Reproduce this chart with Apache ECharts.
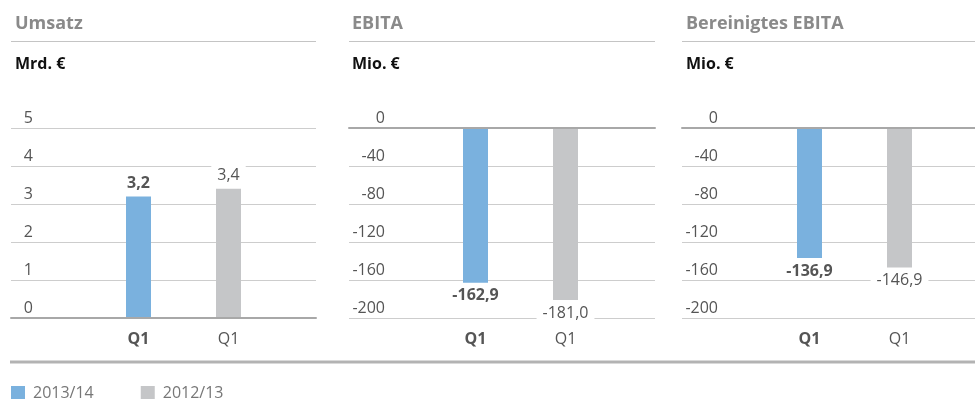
<!DOCTYPE html>
<html>
<head>
<meta charset="utf-8">
<script src="https://cdn.jsdelivr.net/npm/echarts@6/dist/echarts.min.js"></script>
<style>
html, body { margin: 0; padding: 0; background: #fff; }
#chart { width: 975px; height: 399px; }
</style>
</head>
<body>
<div id="chart"></div>
<script>
var years = ['2013/14', '2012/13'];
var categories = ['Q1', 'Q1'];
var titles = ['Umsatz', 'EBITA', 'Bereinigtes EBITA'];
var units = ['Mrd. €', 'Mio. €', 'Mio. €'];
var umsatz = [3.2, 3.4];
var ebita = [-162.9, -181.0];
var adjEbita = [-136.9, -146.9];
var umsatzTicks = [0, 1, 2, 3, 4, 5];
var ebitaTicks = [-200, -160, -120, -80, -40, 0];

var font = 'Open Sans';
var blue = '#7ab1de';
var gray = '#c5c6c8';

// layout of the three panels (pixels)
var panels = [
	{ values: umsatz, ticks: umsatzTicks, left: 11, width: 305, barLeft: 93.5, labelMargin: 22, titleX: 15 },
	{ values: ebita, ticks: ebitaTicks, left: 349, width: 306, barLeft: 430.5, labelMargin: 36, titleX: 352 },
	{ values: adjEbita, ticks: ebitaTicks, left: 682, width: 293, barLeft: 764.5, labelMargin: 36, titleX: 686 }
];

function fmt(p) {
	return p.value.toFixed(1).replace('.', ',');
}

var grid = [], xAxis = [], yAxis = [], series = [], title = [], graphic = [];

panels.forEach(function(p, i) {
	var min = p.ticks[0];
	var max = p.ticks[p.ticks.length - 1];
	var step = p.ticks[1] - p.ticks[0];
	var neg = max <= 0;

	// grid with the horizontal lines
	grid.push({ left: p.left, width: p.width, top: 128, height: 190 });
	// grid with the bars
	grid.push({ left: p.barLeft, width: 180, top: 128, height: 190 });

	xAxis.push({
		gridIndex: 2 * i,
		type: 'category',
		data: [''],
		axisTick: { show: false },
		axisLabel: { show: false },
		axisLine: { show: true, onZero: true, lineStyle: { color: '#a8a8a8', width: 2 } },
		z: 3
	});
	yAxis.push({
		gridIndex: 2 * i,
		type: 'value',
		min: min,
		max: max,
		interval: step,
		axisLine: { show: false },
		axisTick: { show: false },
		splitLine: { show: true, lineStyle: { color: '#cdcdcd', width: 1 } },
		axisLabel: {
			inside: true,
			margin: p.labelMargin,
			align: 'right',
			verticalAlign: 'bottom',
			padding: [0, 0, 2, 0],
			color: '#555',
			fontSize: 16,
			fontFamily: font
		}
	});

	xAxis.push({
		gridIndex: 2 * i + 1,
		type: 'category',
		data: categories,
		axisLine: { show: false, onZero: false },
		axisTick: { show: false },
		axisLabel: {
			margin: 13,
			formatter: function(v, idx) {
				return idx === 0 ? '{b|' + v + '}' : '{n|' + v + '}';
			},
			rich: {
				b: { fontWeight: 'bold', fontSize: 16, color: '#555', fontFamily: font },
				n: { fontSize: 16, color: '#555', fontFamily: font }
			}
		}
	});
	yAxis.push({ gridIndex: 2 * i + 1, type: 'value', min: min, max: max, show: false });

	series.push({
		name: years[0],
		type: 'bar',
		xAxisIndex: 2 * i + 1,
		yAxisIndex: 2 * i + 1,
		barWidth: 25,
		barGap: '-100%',
		data: [p.values[0], '-'],
		itemStyle: { color: blue },
		label: {
			show: true,
			position: neg ? 'bottom' : 'top',
			distance: 5,
			formatter: fmt,
			fontWeight: 'bold',
			fontSize: 16,
			color: '#555',
			fontFamily: font
		}
	});
	series.push({
		name: years[1],
		type: 'bar',
		xAxisIndex: 2 * i + 1,
		yAxisIndex: 2 * i + 1,
		barWidth: 25,
		barGap: '-100%',
		data: ['-', p.values[1]],
		itemStyle: { color: gray },
		label: {
			show: true,
			position: neg ? 'bottom' : 'top',
			distance: 3,
			formatter: fmt,
			fontSize: 16,
			color: '#555',
			fontFamily: font,
			backgroundColor: '#fff',
			padding: [2, 6]
		}
	});

	title.push({
		text: titles[i],
		left: p.titleX,
		top: 15,
		padding: 0,
		textStyle: { fontSize: 18, fontWeight: 'bold', color: '#8a8a8a', fontFamily: font }
	});
	title.push({
		text: units[i],
		left: p.titleX,
		top: 56,
		padding: 0,
		textStyle: { fontSize: 16, fontWeight: 'bold', color: '#111', fontFamily: font }
	});

	graphic.push({
		type: 'line',
		shape: { x1: p.left, y1: 41.5, x2: p.left + p.width, y2: 41.5 },
		style: { stroke: '#c4c4c4', lineWidth: 1 }
	});
});

graphic.push({
	type: 'line',
	shape: { x1: 10, y1: 362, x2: 975, y2: 362 },
	style: { stroke: '#b3b3b3', lineWidth: 3 }
});

var chart = echarts.init(document.getElementById('chart'));
chart.setOption({
	animation: false,
	title: title,
	grid: grid,
	xAxis: xAxis,
	yAxis: yAxis,
	series: series,
	graphic: graphic,
	legend: {
		data: years,
		left: 11,
		top: 385,
		padding: 0,
		icon: 'rect',
		itemWidth: 14,
		itemHeight: 14,
		itemGap: 47,
		selectedMode: false,
		textStyle: { color: '#777', fontSize: 16, fontFamily: font, padding: [0, 0, 0, 3] }
	}
});
</script>
</body>
</html>
